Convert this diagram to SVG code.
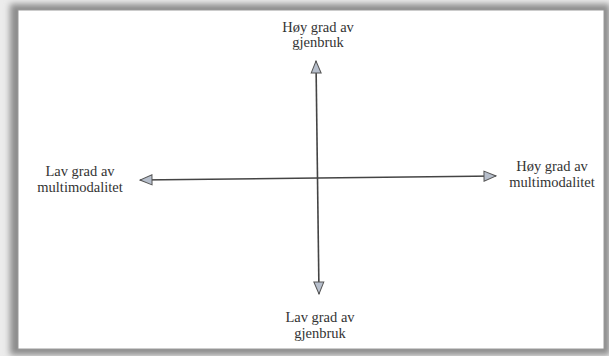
<svg xmlns="http://www.w3.org/2000/svg" width="609" height="356" viewBox="0 0 609 356">
<defs>
<filter id="sh" x="-10%" y="-10%" width="120%" height="120%"><feGaussianBlur stdDeviation="3"/></filter>
<marker id="ah" viewBox="0 0 14 12" refX="13" refY="6" markerWidth="14" markerHeight="12" markerUnits="userSpaceOnUse" orient="auto-start-reverse">
<path d="M1,1 L13,6 L1,11 Z" fill="#b7bfcc" stroke="#555" stroke-width="1"/>
</marker>
</defs>
<style>
text{font-family:"Liberation Serif","Times New Roman",serif;font-size:14.5px;fill:#333;text-anchor:middle}
.ax{stroke:#444;stroke-width:1.6;fill:none}
</style>
<rect x="0" y="0" width="609" height="356" fill="#ececec"/>
<rect x="10" y="4" width="600" height="351" fill="#8c8c8c" filter="url(#sh)"/>
<rect x="18" y="10" width="586" height="339" fill="#ffffff" stroke="#9a9a9a" stroke-width="1"/>
<g id="connectors">
<line class="ax" x1="318" y1="178" x2="140" y2="180" marker-end="url(#ah)"/>
<line class="ax" x1="318" y1="178" x2="496" y2="176" marker-end="url(#ah)"/>
<line class="ax" x1="317.5" y1="178" x2="316" y2="61" marker-end="url(#ah)"/>
<line class="ax" x1="317.5" y1="178" x2="319" y2="294" marker-end="url(#ah)"/>
</g>
<g id="top"><text x="318" y="32">Høy grad av</text><text x="318" y="47">gjenbruk</text></g>
<g id="bottom"><text x="320" y="322">Lav grad av</text><text x="320" y="338">gjenbruk</text></g>
<g id="left"><text x="80" y="176">Lav grad av</text><text x="80" y="192">multimodalitet</text></g>
<g id="right"><text x="552" y="171">Høy grad av</text><text x="552" y="187">multimodalitet</text></g>
</svg>
